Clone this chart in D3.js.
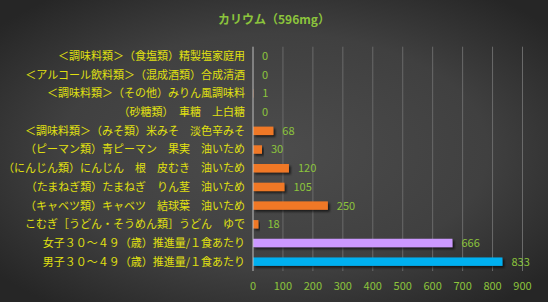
<!DOCTYPE html>
<html><head><meta charset="utf-8">
<script src="https://cdn.jsdelivr.net/npm/d3@7/dist/d3.min.js"></script>
<style>body{margin:0;background:#333}svg{display:block}</style>
</head><body><svg id="c" width="548" height="302"></svg>
<script>
const title = "カリウム（596mg）";
const categories = [
  "＜調味料類＞（食塩類）精製塩家庭用",
  "＜アルコール飲料類＞（混成酒類）合成清酒",
  "＜調味料類＞（その他）みりん風調味料",
  "（砂糖類）　車糖　上白糖",
  "＜調味料類＞（みそ類）米みそ　淡色辛みそ",
  "（ピーマン類）青ピーマン　果実　油いため",
  "（にんじん類）にんじん　根　皮むき　油いため",
  "（たまねぎ類）たまねぎ　りん茎　油いため",
  "（キャベツ類）キャベツ　結球葉　油いため",
  "こむぎ［うどん・そうめん類］うどん　ゆで",
  "女子３０～４９（歳）推進量/１食あたり",
  "男子３０～４９（歳）推進量/１食あたり"
];
const values = [0, 0, 1, 0, 68, 30, 120, 105, 250, 18, 666, 833];
const barColors = ["#f07828","#f07828","#f07828","#f07828","#f07828","#f07828","#f07828","#f07828","#f07828","#f07828","#cc99ff","#00b0f0"];
const ticks = [0,100,200,300,400,500,600,700,800,900];

(function(){
const svg = d3.select("#c");
const W = 548, H = 302;
const defs = svg.append("defs");
const rg = defs.append("radialGradient").attr("id","bg").attr("cx","50%").attr("cy","50%").attr("r","65%");
rg.append("stop").attr("offset","0%").attr("stop-color","#4c4c4c");
rg.append("stop").attr("offset","60%").attr("stop-color","#404040");
rg.append("stop").attr("offset","100%").attr("stop-color","#262626");
const f = defs.append("filter").attr("id","sh").attr("x","-10%").attr("y","-50%").attr("width","130%").attr("height","250%");
f.append("feDropShadow").attr("dx",2).attr("dy",2).attr("stdDeviation",1.2).attr("flood-color","#000").attr("flood-opacity",0.6);
svg.append("rect").attr("width",W).attr("height",H).attr("fill","url(#bg)");

const font = "'Noto Sans CJK JP', 'Noto Sans', sans-serif";
const pL = 253, pR = 522.5, pT = 46.7, pB = 271;
const x = d3.scaleLinear().domain([0,900]).range([pL,pR]);
const y = d3.scaleBand().domain(categories).range([pT,pB]).paddingInner(0.55).paddingOuter(0.275);

svg.append("text").attr("x",274).attr("y",24).attr("text-anchor","middle")
  .attr("fill","#8cc43c").attr("font-family",font).attr("font-size",12).attr("font-weight","bold").text(title);

svg.append("g").selectAll("line").data(ticks.slice(1)).join("line")
  .attr("x1",d=>x(d)).attr("x2",d=>x(d)).attr("y1",pT).attr("y2",pB)
  .attr("stroke","#6a6a6a").attr("stroke-width",1);

svg.append("g").selectAll("rect").data(values).join("rect")
  .attr("x",pL).attr("y",(d,i)=>y(categories[i]))
  .attr("width",d=>x(d)-pL).attr("height",y.bandwidth())
  .attr("fill",(d,i)=>barColors[i]).attr("filter","url(#sh)");

svg.append("line").attr("x1",pL).attr("x2",pL).attr("y1",pT).attr("y2",pB)
  .attr("stroke","#bfbfbf").attr("stroke-width",1);

svg.append("g").selectAll("text").data(categories).join("text")
  .attr("x",245).attr("y",d=>y(d)+y.bandwidth()/2).attr("dy","0.36em")
  .attr("text-anchor","end").attr("fill","#e0e010").attr("font-family",font).attr("font-size",11)
  .text(d=>d);

svg.append("g").selectAll("text").data(values).join("text")
  .attr("x",d=>x(d)+9).attr("y",(d,i)=>y(categories[i])+y.bandwidth()/2).attr("dy","0.36em")
  .attr("fill","#8cc43c").attr("font-family",font).attr("font-size",11)
  .text(d=>d);

svg.append("g").selectAll("text").data(ticks).join("text")
  .attr("x",d=>x(d)).attr("y",290).attr("text-anchor","middle")
  .attr("fill","#8cc43c").attr("font-family",font).attr("font-size",11)
  .text(d=>d);
})();
</script></body></html>
